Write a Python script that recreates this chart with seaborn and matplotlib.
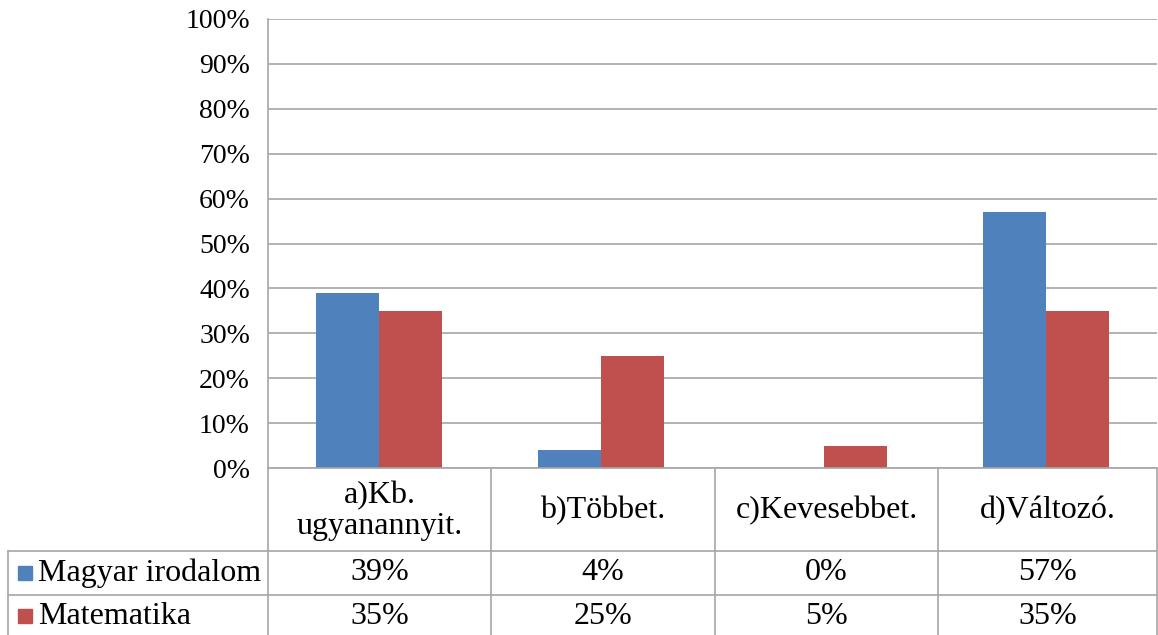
import pandas as pd
import numpy as np
import matplotlib.pyplot as plt
import seaborn as sns
from matplotlib.lines import Line2D
from matplotlib.patches import Rectangle
from matplotlib.ticker import PercentFormatter

categories = ['a)Kb.\nugyanannyit.', 'b)Többet.', 'c)Kevesebbet.', 'd)Változó.']
series = ['Magyar irodalom', 'Matematika']
magyar = [39, 4, 0, 57]
matek = [35, 25, 5, 35]
colors = ['#4F81BD', '#C0504D']

df = pd.DataFrame({
    'kat': categories * 2,
    'tantargy': [series[0]] * 4 + [series[1]] * 4,
    'ertek': magyar + matek,
})

sns.set_style('white')
plt.rcParams['font.family'] = ['Liberation Serif', 'DejaVu Serif']
plt.rcParams['text.color'] = 'black'
plt.rcParams['ytick.color'] = 'black'

W, H = 1158, 635
fig = plt.figure(figsize=(W / 100, H / 100), dpi=100)

# plot area in pixels
left, right, top, bottom = 268, 1157, 19, 468
ax = fig.add_axes([left / W, 1 - bottom / H, (right - left) / W, (bottom - top) / H])

sns.barplot(ax=ax, data=df, x='kat', y='ertek', hue='tantargy',
            palette=colors, width=0.566, saturation=1, legend=False,
            linewidth=0, edgecolor='none')

ax.set_ylim(0, 100)
ax.set_xlim(-0.5, 3.5)
ax.set_yticks(np.arange(0, 101, 10))
ax.yaxis.set_major_formatter(PercentFormatter(decimals=0))
ax.tick_params(axis='y', length=0, pad=13, labelsize=20, labelcolor='black')
ax.set_xticks([])
ax.set_xlabel('')
ax.set_ylabel('')
ax.grid(axis='y', color='#a6a6a6', linewidth=1.2)
ax.set_axisbelow(True)
for s in ['top', 'right', 'bottom']:
    ax.spines[s].set_visible(False)
ax.spines['left'].set_color('#a6a6a6')
ax.spines['left'].set_linewidth(1.2)


# data table below the chart
def fx(x):
    return x / W


def fy(y):
    return 1 - y / H


def hline(x0, x1, y):
    fig.add_artist(Line2D([fx(x0), fx(x1)], [fy(y), fy(y)], color='#a6a6a6', lw=1.2))


def vline(x, y0, y1):
    fig.add_artist(Line2D([fx(x), fx(x)], [fy(y0), fy(y1)], color='#a6a6a6', lw=1.2))


cols = [268, 491, 715, 938, 1157]

hline(268, 1157, 468)
hline(8, 1157, 551)
hline(8, 1157, 595)
for x in cols:
    vline(x, 468, 640)
vline(8, 551, 640)

for i, cat in enumerate(categories):
    cx = (cols[i] + cols[i + 1]) / 2
    fig.text(fx(cx), fy(511), cat, ha='center', va='center',
             fontsize=23, linespacing=1.12, color='black')

table_vals = [magyar, matek]
row_y = [573, 616]
for r, name in enumerate(series):
    cy = row_y[r]
    fig.add_artist(Rectangle((fx(18), fy(cy + 7)), 14 / W, 14 / H,
                             color=colors[r], transform=fig.transFigure))
    fig.text(fx(38), fy(cy), name, ha='left', va='center', fontsize=23, color='black')
    for i, v in enumerate(table_vals[r]):
        cx = (cols[i] + cols[i + 1]) / 2
        fig.text(fx(cx), fy(cy), f'{v}%', ha='center', va='center',
                 fontsize=23, color='black')

fig.savefig('out.png', dpi=100)
